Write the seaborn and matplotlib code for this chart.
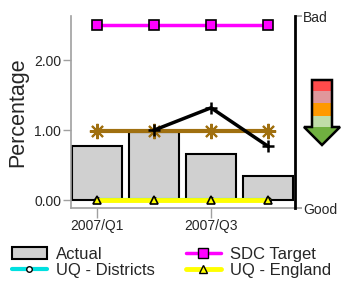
import matplotlib
matplotlib.use("Agg")
import matplotlib.pyplot as plt
from matplotlib.patches import Polygon, Rectangle
from matplotlib.lines import Line2D
import seaborn as sns
import pandas as pd

quarters = ["2007/Q1", "2007/Q2", "2007/Q3", "2007/Q4"]
actual = [0.77, 0.98, 0.66, 0.34]
trend = [None, 1.00, 1.32, 0.77]
sdc_target = [2.50, 2.50, 2.50, 2.50]
uq_districts = [0.00, 0.00, 0.00, 0.00]
uq_england = [0.00, 0.00, 0.00, 0.00]
brown_line = [0.99, 0.99, 0.99, 0.99]
tick_quarters = ["2007/Q1", "2007/Q3"]

sns.set_theme(style="white")
plt.rcParams["font.family"] = ["Liberation Sans", "DejaVu Sans"]

fig = plt.figure(figsize=(3.42, 2.84), dpi=100)
ax = fig.add_axes([0.2076, 0.2676, 0.655, 0.676])

df = pd.DataFrame({"quarter": quarters, "actual": actual})
sns.barplot(data=df, x="quarter", y="actual", color="#d0d0d0", width=0.88,
            edgecolor="black", linewidth=1.5, saturation=1, ax=ax, zorder=2)

xs = list(range(len(quarters)))
ax.plot(xs, uq_districts, color="#00e0e0", lw=3, marker="o", ms=4,
        mfc="white", mec="black", zorder=3)
ax.plot(xs, uq_england, color="#ffff00", lw=3.5, marker="^", ms=6,
        mfc="#ffff00", mec="black", mew=1.2, zorder=4)
ax.plot(xs, brown_line, color="#a07010", lw=3, marker=(8, 2, 0), ms=11,
        mew=1.5, mec="#a07010", zorder=5)
tx = [x for x, v in zip(xs, trend) if v is not None]
ty = [v for v in trend if v is not None]
ax.plot(tx, ty, color="black", lw=2.5, marker="+", ms=9, mew=1.8, zorder=6)
ax.plot(xs, sdc_target, color="#ff00ff", lw=2.5, marker="s", ms=7,
        mfc="#ff00ff", mec="black", mew=1.2, zorder=7)

ax.set_xlim(-0.45, 3.47)
ax.set_ylim(-0.11, 2.63)
ax.set_yticks([0, 1, 2])
ax.set_yticklabels(["0.00", "1.00", "2.00"])
ax.set_xticks([quarters.index(q) for q in tick_quarters])
ax.set_xticklabels(tick_quarters)
ax.set_xlabel("")
ax.set_ylabel("Percentage", fontsize=15.5, labelpad=4)
ax.tick_params(axis="y", direction="out", length=6, width=1, color="#a0a0a0",
               labelsize=10, pad=1, left=True)
ax.tick_params(axis="x", direction="out", length=7, width=1, color="#a0a0a0",
               labelsize=10, pad=1, bottom=True)
for s in ["top", "right"]:
    ax.spines[s].set_visible(False)
for s in ["left", "bottom"]:
    ax.spines[s].set_color("#a0a0a0")
    ax.spines[s].set_linewidth(1.2)

# right-hand Good/Bad scale
ax2 = ax.twinx()
ax2.set_ylim(0, 1)
ax2.set_yticks([0, 1])
ax2.set_yticklabels(["Good", "Bad"])
ax2.tick_params(axis="y", direction="out", length=5, color="#a0a0a0",
                labelsize=10, pad=1)
for s in ["top", "left", "bottom"]:
    ax2.spines[s].set_visible(False)
ax2.spines["right"].set_color("black")
ax2.spines["right"].set_linewidth(2)
ax2.grid(False)

# direction arrow
aax = fig.add_axes([0, 0, 1, 1], facecolor="none")
aax.set_xlim(0, 342)
aax.set_ylim(284, 0)
aax.axis("off")
stripes = [("#ff4b4b", 80, 91), ("#e0979b", 91, 103), ("#ff9900", 103, 116),
           ("#c0dda8", 116, 127)]
for c, y0, y1 in stripes:
    aax.add_patch(Rectangle((312, y0), 20, y1 - y0, facecolor=c, edgecolor="none"))
outline = [(312, 80), (332, 80), (332, 127), (340, 127), (322, 145), (304, 127), (312, 127)]
aax.add_patch(Polygon([(304, 127), (340, 127), (322, 145)], closed=True,
                      facecolor="#70b040", edgecolor="none"))
aax.add_patch(Polygon(outline, closed=True, facecolor="none", edgecolor="black", lw=1.8))

handles = [
    Rectangle((0, 0), 1, 1, facecolor="#d0d0d0", edgecolor="black", lw=1.5),
    Line2D([], [], color="#00e0e0", lw=3, marker="o", ms=4, mfc="white", mec="black"),
    Line2D([], [], color="#ff00ff", lw=2.5, marker="s", ms=7, mfc="#ff00ff", mec="black"),
    Line2D([], [], color="#ffff00", lw=3.5, marker="^", ms=6, mfc="#ffff00", mec="black"),
]
labels = ["Actual", "UQ - Districts", "SDC Target", "UQ - England"]
fig.legend(handles, labels, ncol=2, loc="upper left", bbox_to_anchor=(0.035, 0.132),
           frameon=False, fontsize=12, handlelength=2.1, columnspacing=1.85,
           labelspacing=0.1, handletextpad=0.55, borderaxespad=0, borderpad=0)

fig.savefig("out.png", dpi=100)
